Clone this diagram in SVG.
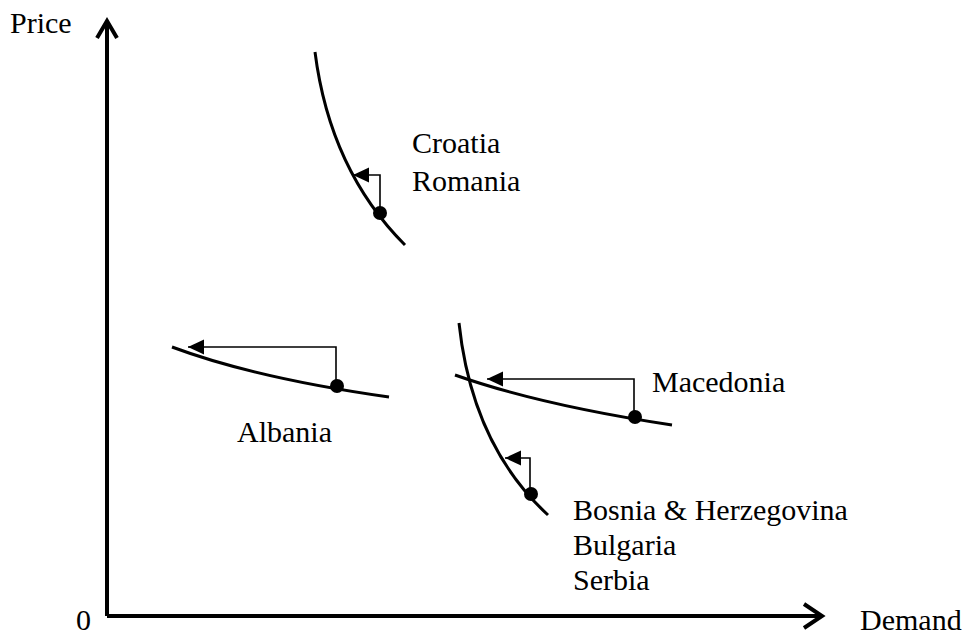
<svg xmlns="http://www.w3.org/2000/svg" width="971" height="635" viewBox="0 0 971 635">
  <style>
    text { font-family: "Liberation Serif", "DejaVu Serif", "Noto Serif", serif; font-size: 30px; fill: #000; }
    .axis { fill: none; stroke: #000; stroke-width: 4; }
    .curve { fill: none; stroke: #000; stroke-width: 3; }
    .shift { fill: none; stroke: #000; stroke-width: 1.6; marker-end: url(#tri); }
    .dot { fill: #000; }
  </style>
  <defs>
    <marker id="tri" markerUnits="userSpaceOnUse" markerWidth="18" markerHeight="16" refX="16" refY="7.5" orient="auto">
      <path d="M0,0 L16,7.5 L0,15 Z" fill="#000"/>
    </marker>
  </defs>

  <rect width="971" height="635" fill="#fff"/>

  <!-- axes -->
  <g id="axes">
    <path class="axis" d="M107,616 V22 M107,616 H821"/>
    <polyline class="axis" points="97,38 107,21 117,38"/>
    <polyline class="axis" points="804,604 822,616 804,628"/>
    <text x="10" y="33">Price</text>
    <text x="76" y="630">0</text>
    <text x="860" y="630">Demand</text>
  </g>

  <!-- demand curves with marked points -->
  <g id="croatia-romania">
    <path class="curve" d="M315,52 Q330,170 405,245"/>
    <circle class="dot" cx="380" cy="213" r="7"/>
    <text x="412" y="153">Croatia</text>
    <text x="412" y="191">Romania</text>
  </g>

  <g id="albania">
    <path class="curve" d="M172,347 Q255,378 389,397"/>
    <circle class="dot" cx="337" cy="386" r="7"/>
    <text x="237" y="442">Albania</text>
  </g>

  <g id="macedonia">
    <path class="curve" d="M455,375 Q540,405 672,425"/>
    <circle class="dot" cx="635" cy="417" r="7"/>
    <text x="652" y="392">Macedonia</text>
  </g>

  <g id="bosnia-bulgaria-serbia">
    <path class="curve" d="M459,323 Q472,445 548,515"/>
    <circle class="dot" cx="531" cy="494" r="7"/>
    <text x="573" y="520">Bosnia &amp; Herzegovina</text>
    <text x="573" y="555">Bulgaria</text>
    <text x="573" y="590">Serbia</text>
  </g>

  <!-- shift arrows -->
  <g id="connectors">
    <polyline class="shift" points="380,213 380,175 353,175"/>
    <polyline class="shift" points="336,386 336,347 188,347"/>
    <polyline class="shift" points="634,417 634,379 487,379"/>
    <polyline class="shift" points="530,494 530,458 505,458"/>
  </g>
</svg>
